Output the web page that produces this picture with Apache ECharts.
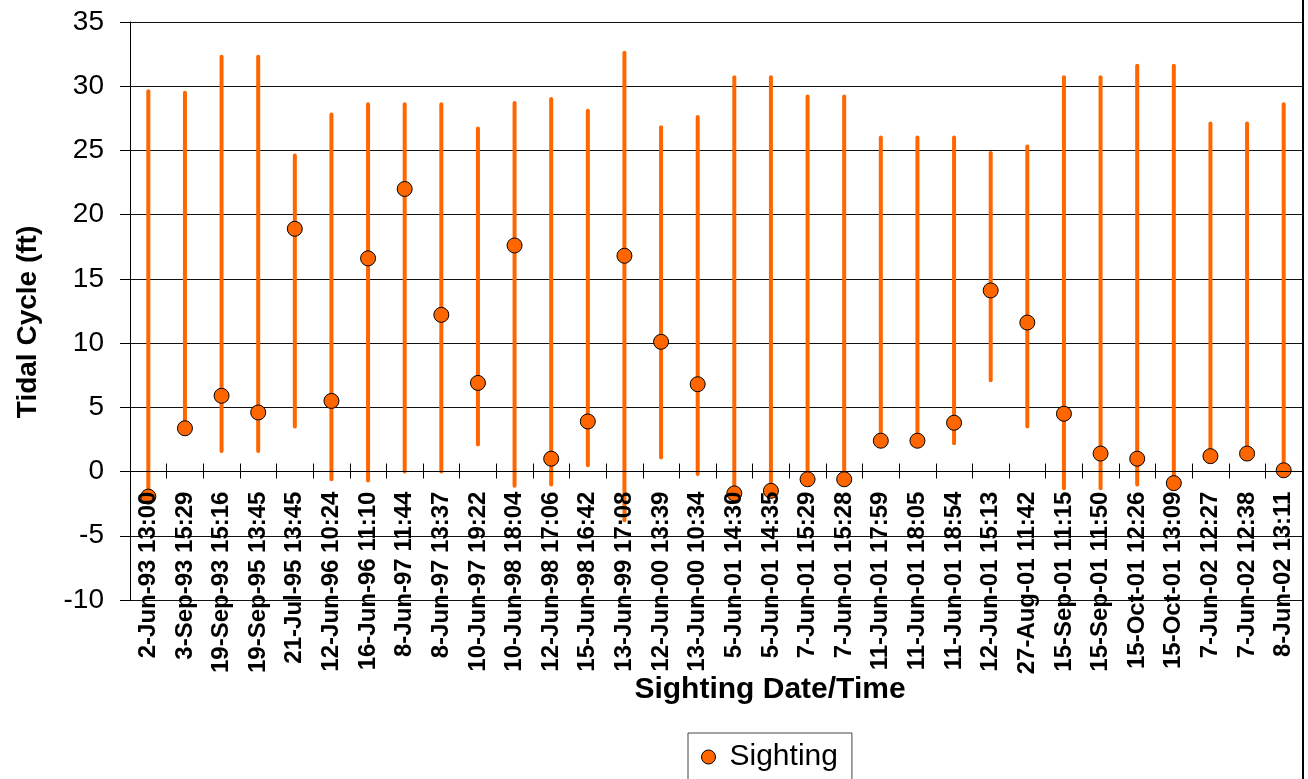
<!DOCTYPE html>
<html>
<head>
<meta charset="utf-8">
<script src="https://cdn.jsdelivr.net/npm/echarts@6/dist/echarts.min.js"></script>
<style>
  html, body { margin: 0; padding: 0; background: #fff; }
  #chart { width: 1308px; height: 779px; }
</style>
</head>
<body>
<div id="chart"></div>
<script>
const categories = [
  '2-Jun-93 13:00', '3-Sep-93 15:29', '19-Sep-93 15:16', '19-Sep-95 13:45',
  '21-Jul-95 13:45', '12-Jun-96 10:24', '16-Jun-96 11:10', '8-Jun-97 11:44',
  '8-Jun-97 13:37', '10-Jun-97 19:22', '10-Jun-98 18:04', '12-Jun-98 17:06',
  '15-Jun-98 16:42', '13-Jun-99 17:08', '12-Jun-00 13:39', '13-Jun-00 10:34',
  '5-Jun-01 14:30', '5-Jun-01 14:35', '7-Jun-01 15:29', '7-Jun-01 15:28',
  '11-Jun-01 17:59', '11-Jun-01 18:05', '11-Jun-01 18:54', '12-Jun-01 15:13',
  '27-Aug-01 11:42', '15-Sep-01 11:15', '15-Sep-01 11:50', '15-Oct-01 12:26',
  '15-Oct-01 13:09', '7-Jun-02 12:27', '7-Jun-02 12:38', '8-Jun-02 13:11'
];
const tideHigh = [
  29.6, 29.5, 32.3, 32.3, 24.6, 27.8, 28.6, 28.6,
  28.6, 26.7, 28.7, 29.0, 28.1, 32.6, 26.8, 27.6,
  30.7, 30.7, 29.2, 29.2, 26.0, 26.0, 26.0, 24.8,
  25.3, 30.7, 30.7, 31.6, 31.6, 27.1, 27.1, 28.6
];
const tideLow = [
  -1.9, 3.4, 1.6, 1.6, 3.5, -0.6, -0.7, 0.0,
  0.0, 2.1, -1.1, -1.0, 0.5, -3.8, 1.1, -0.2,
  -1.7, -1.5, -0.6, -0.6, 2.4, 2.4, 2.2, 7.1,
  3.5, -1.3, -1.3, -1.0, -0.9, 1.2, 1.4, 0.1
];
const sighting = [
  -1.95, 3.37, 5.9, 4.6, 18.9, 5.5, 16.6, 22.0,
  12.2, 6.9, 17.6, 1.0, 3.9, 16.8, 10.1, 6.8,
  -1.7, -1.5, -0.6, -0.6, 2.4, 2.4, 3.8, 14.1,
  11.6, 4.5, 1.4, 1.0, -0.9, 1.2, 1.4, 0.1
];
const yMin = -10, yMax = 35, yStep = 5;

const FONT = '"Liberation Sans", Arial, sans-serif';
const ORANGE = '#FF6600';

const GRID_TOP = 22, GRID_BOTTOM = 179, H = 779;
// distance from the bottom of the plot (y = yMin) up to the y = 0 line
const zeroOffset = -((H - GRID_TOP - GRID_BOTTOM) * (0 - yMin) / (yMax - yMin));

const chart = echarts.init(document.getElementById('chart'), null, { renderer: 'canvas' });

const rangeData = categories.map((c, i) => [i, tideLow[i], tideHigh[i]]);

chart.setOption({
  animation: false,
  backgroundColor: '#fff',
  grid: { left: 130, right: 6, top: GRID_TOP, bottom: GRID_BOTTOM, outerBoundsMode: 'none', containLabel: false },
  legend: {
    data: ['Sighting'],
    left: 688, top: 733,
    orient: 'horizontal',
    padding: [9, 14, 12, 13],
    borderColor: '#444', borderWidth: 1,
    itemWidth: 32, itemHeight: 14,
    icon: 'circle',
    itemStyle: { borderColor: '#000', borderWidth: 1 },
    textStyle: { fontFamily: FONT, fontSize: 30, color: '#000' }
  },
  xAxis: [{
    type: 'category',
    data: categories,
    z: 4,
    offset: zeroOffset,
    axisLine: { show: true, onZero: false, lineStyle: { color: '#000', width: 1 } },
    axisTick: { show: true, interval: 0, length: 7, inside: false, lineStyle: { color: '#000' } },
    axisLabel: {
      interval: 0, rotate: 90, margin: 20,
      fontFamily: FONT, fontSize: 24, fontWeight: 'bold', color: '#000'
    },
    splitLine: { show: false },
    name: 'Sighting Date/Time',
    nameLocation: 'middle',
    nameGap: 203,
    nameMoveOverlap: false,
    nameTextStyle: { fontFamily: FONT, fontSize: 30, fontWeight: 'bold', color: '#000', padding: [0, 0, 0, 108] }
  }, {
    type: 'category',
    data: categories,
    position: 'bottom',
    z: 4,
    offset: zeroOffset,
    axisLine: { show: false, onZero: false },
    axisTick: { show: true, interval: 0, length: 8, inside: true, lineStyle: { color: '#000' } },
    axisLabel: { show: false, interval: 0 },
    splitLine: { show: false }
  }],
  yAxis: {
    type: 'value',
    min: yMin, max: yMax, interval: yStep,
    axisLine: { show: true, lineStyle: { color: '#000', width: 1 } },
    axisTick: { show: true, length: 10, lineStyle: { color: '#000' } },
    axisLabel: { margin: 26, fontFamily: FONT, fontSize: 28, color: '#000' },
    splitLine: { show: true, lineStyle: { color: '#111', width: 1 } },
    name: 'Tidal Cycle (ft)',
    nameLocation: 'middle',
    nameGap: 88,
    nameMoveOverlap: false,
    nameTextStyle: { fontFamily: FONT, fontSize: 28, fontWeight: 'bold', color: '#000', padding: [0, 22, 0, 0] }
  },
  graphic: [{
    type: 'line',
    shape: { x1: 1303, y1: 0, x2: 1303, y2: 779 },
    style: { stroke: '#000', lineWidth: 2 },
    z: 10
  }],
  series: [{
    name: 'Tide range',
    type: 'custom',
    z: 2,
    data: rangeData,
    encode: { x: 0, y: [1, 2] },
    renderItem: function (params, api) {
      const p1 = api.coord([api.value(0), api.value(1)]);
      const p2 = api.coord([api.value(0), api.value(2)]);
      return {
        type: 'line',
        shape: { x1: p1[0], y1: p1[1], x2: p2[0], y2: p2[1] },
        style: { stroke: ORANGE, lineWidth: 4, lineCap: 'round' }
      };
    }
  }, {
    name: 'Sighting',
    type: 'scatter',
    z: 3,
    data: sighting,
    symbol: 'circle',
    symbolSize: 15,
    itemStyle: { color: ORANGE, borderColor: '#000', borderWidth: 1, opacity: 1 }
  }]
});
</script>
</body>
</html>
